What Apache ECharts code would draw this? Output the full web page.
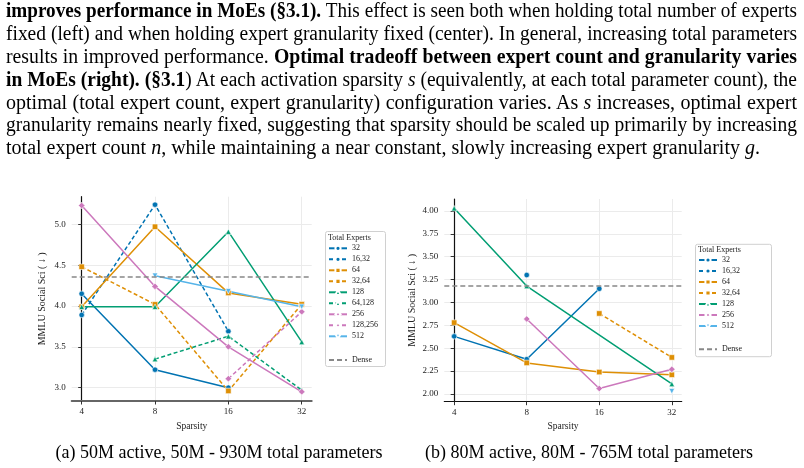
<!DOCTYPE html>
<html>
<head>
<meta charset="utf-8">
<script src="https://cdn.jsdelivr.net/npm/echarts@6/dist/echarts.min.js"></script>
<style>
body { margin: 0; background: #fff; }
#chart { position: absolute; left: 0; top: 0; width: 804px; height: 468px; }
.txt { position: absolute; font-family: 'Liberation Serif', 'Times New Roman', serif; color: #000; }
#para { left: 6px; top: -0.6px; width: 791px; font-size: 20.5px; line-height: 22.8px; }
#para div { white-space: nowrap; transform-origin: 0 0; }
#para.fit div { white-space: normal; text-align: justify; text-align-last: justify; }
#para.fit div.last { text-align-last: left; }
.cap { top: 442px; font-size: 18px; white-space: nowrap; transform: translateX(-50%); }
</style>
</head>
<body>
<div id="chart"></div>
<div id="para" class="txt">
  <div><b>improves performance in MoEs (§3.1).</b> This effect is seen both when holding total number of experts</div>
  <div>fixed (left) and when holding expert granularity fixed (center). In general, increasing total parameters</div>
  <div>results in improved performance. <b>Optimal tradeoff between expert count and granularity varies</b></div>
  <div><b>in MoEs (right). (§3.1</b>) At each activation sparsity <i>s</i> (equivalently, at each total parameter count), the</div>
  <div>optimal (total expert count, expert granularity) configuration varies. As <i>s</i> increases, optimal expert</div>
  <div>granularity remains nearly fixed, suggesting that sparsity should be scaled up primarily by increasing</div>
  <div class="last">total expert count <i>n</i>, while maintaining a near constant, slowly increasing expert granularity <i>g</i>.</div>
</div>
<div class="txt cap" style="left:219px">(a) 50M active, 50M - 930M total parameters</div>
<div class="txt cap" style="left:589px">(b) 80M active, 80M - 765M total parameters</div>

<script>
// x categories (sparsity) and y ticks
const sparsity = ['4', '8', '16', '32']
const leftTicksY = [3.0, 3.5, 4.0, 4.5, 5.0]
const rightTicksY = [2.0, 2.25, 2.5, 2.75, 3.0, 3.25, 3.5, 3.75, 4.0]

// (a) 50M active
const left32 = [4.15, 3.22, 3.00, null]
const left16_32 = [3.89, 5.24, 3.69, null]
const left64 = [3.99, 4.97, 4.16, 4.02]
const left32_64 = [4.48, 4.02, 2.96, 4.02]
const left128 = [3.99, 3.99, 4.91, 3.56]
const left64_128 = [null, 3.35, 3.63, 2.97]
const left256 = [5.23, 4.24, 3.50, 2.95]
const left128_256 = [null, null, 3.11, 3.93]
const left512 = [null, 4.37, 4.18, 3.99]
const leftDense = 4.36

// (b) 80M active
const right32 = [2.63, 2.38, 3.15, null]
const right16_32 = [null, 3.30, null, null]
const right64 = [2.78, 2.34, 2.24, 2.21]
const right32_64 = [null, null, 2.88, 2.40]
const right128 = [4.03, 3.18, null, 2.11]
const right256 = [null, 2.82, 2.06, 2.27]
const right512 = [null, null, null, 2.03]
const rightDense = 3.18

const leftNames = ['32', '16,32', '64', '32,64', '128', '64,128', '256', '128,256', '512']
const rightNames = ['32', '16,32', '64', '32,64', '128', '256', '512']

const BLUE = '#0173b2', ORANGE = '#de8f05', GREEN = '#029e73', PINK = '#cc78bc', SKY = '#56b4e9'
const TRI_DOWN = 'path://M0,0 L10,0 L5,9 Z'
const FONT = 'Liberation Serif'

// squeeze each paragraph line horizontally, like the condensed typeset original
const para = document.getElementById('para')
const natural = d => {
  const r = document.createRange()
  r.selectNodeContents(d)
  return r.getBoundingClientRect().width
}
const rows = [...para.children]
const lastRow = rows[rows.length - 1]
const base = 754 / natural(lastRow)
const scales = rows.map(d => d === lastRow ? base : Math.min(base, 789 / natural(d)))
para.classList.add('fit')
rows.forEach((d, i) => {
  d.style.width = (791 / scales[i]) + 'px'
  d.style.transform = 'scaleX(' + scales[i] + ')'
})

const line = (name, vals, idx, color, symbol, dashed, extra) => Object.assign({
  name,
  type: 'line',
  xAxisIndex: idx,
  yAxisIndex: idx,
  data: vals.map((v, i) => [i, v]),
  symbol,
  symbolSize: symbol === 'diamond' ? 6.5 : 5.5,
  showSymbol: true,
  lineStyle: { color, width: 1.5, type: dashed ? [4, 2.5] : 'solid' },
  itemStyle: { color, borderColor: '#fff', borderWidth: 0.6 },
  emphasis: { disabled: true }
}, extra || {})

const dense = (idx, value) => ({
  name: 'Dense',
  type: 'line',
  xAxisIndex: idx,
  yAxisIndex: idx,
  data: [],
  symbol: 'none',
  lineStyle: { color: '#888', width: 1.5, type: [5, 3] },
  itemStyle: { color: '#888' },
  markLine: {
    silent: true,
    symbol: 'none',
    label: { show: false },
    lineStyle: { color: '#888', width: 1.5, type: [5, 3] },
    data: [{ yAxis: value }]
  }
})

const xAxis = (idx, axisColor, axisWidth) => ({
  gridIndex: idx,
  type: 'value',
  min: -0.136,
  max: 3.136,
  name: 'Sparsity',
  nameLocation: 'middle',
  nameGap: 20,
  nameTextStyle: { fontFamily: FONT, fontSize: 9.5, color: '#222' },
  axisLine: { lineStyle: { color: axisColor, width: axisWidth } },
  axisTick: { customValues: [0, 1, 2, 3], length: 3.5, lineStyle: { color: '#333' } },
  axisLabel: {
    customValues: [0, 1, 2, 3],
    formatter: v => sparsity[Math.round(v)],
    fontFamily: FONT, fontSize: 9, color: '#222', margin: 6
  },
  splitLine: { show: true, lineStyle: { color: '#ebebeb', width: 1 } }
})

const yAxis = (idx, min, max, ticks, digits, gap) => ({
  gridIndex: idx,
  type: 'value',
  min,
  max,
  name: 'MMLU Social Sci ( ↓ )',
  nameLocation: 'middle',
  nameGap: gap,
  nameTextStyle: { fontFamily: FONT, fontSize: 10, color: '#222' },
  axisLine: { show: true, lineStyle: { color: '#111', width: 1.2 } },
  axisTick: { show: true, customValues: ticks, length: 3.5, lineStyle: { color: '#333' } },
  axisLabel: {
    customValues: ticks,
    formatter: v => v.toFixed(digits),
    fontFamily: FONT, fontSize: 9, color: '#222', margin: 6
  },
  splitLine: { show: true, lineStyle: { color: '#ebebeb', width: 1 } }
})

const legendText = { fontFamily: FONT, fontSize: 8, color: '#222', lineHeight: 11 }
const legend = (names, left, top) => ({
  data: names,
  orient: 'vertical',
  left,
  top,
  padding: 0,
  itemGap: 0,
  itemWidth: 18,
  itemHeight: 6.5,
  textStyle: legendText,
  selectedMode: false
})
// the dashed reference line has no marker in the legend
const denseItem = [{ name: 'Dense', itemStyle: { opacity: 0 } }]

const chart = echarts.init(document.getElementById('chart'))
chart.setOption({
  animation: false,
  backgroundColor: '#fff',
  grid: [
    { left: 71.7, top: 196.7, width: 240, height: 204.3 },
    { left: 444.3, top: 199, width: 237.4, height: 202.7 }
  ],
  xAxis: [xAxis(0, '#666', 2), xAxis(1, '#111', 1.2)],
  yAxis: [
    yAxis(0, 2.837, 5.338, leftTicksY, 1, 24),
    yAxis(1, 1.916, 4.131, rightTicksY, 2, 27)
  ],
  legend: [
    legend(leftNames, 328, 242.8),
    legend(denseItem, 328, 354.5),
    legend(rightNames, 698, 254.5),
    legend(denseItem, 698, 343.8)
  ],
  graphic: [
    { type: 'rect', shape: { x: 325.5, y: 231.5, width: 60, height: 135, r: 2 }, style: { fill: '#fff', stroke: '#d0d0d0', lineWidth: 1 }, z: 0 },
    { type: 'text', x: 328, y: 237.5, style: { text: 'Total Experts', font: '8px Liberation Serif', fill: '#222', verticalAlign: 'middle' }, z: 1 },
    { type: 'rect', shape: { x: 695.5, y: 244.3, width: 76, height: 112.4, r: 2 }, style: { fill: '#fff', stroke: '#d0d0d0', lineWidth: 1 }, z: 0 },
    { type: 'text', x: 698, y: 250.3, style: { text: 'Total Experts', font: '8px Liberation Serif', fill: '#222', verticalAlign: 'middle' }, z: 1 }
  ],
  series: [
    line('32', left32, 0, BLUE, 'circle', false),
    line('16,32', left16_32, 0, BLUE, 'circle', true),
    line('64', left64, 0, ORANGE, 'rect', false),
    line('32,64', left32_64, 0, ORANGE, 'rect', true),
    line('128', left128, 0, GREEN, 'triangle', false),
    line('64,128', left64_128, 0, GREEN, 'triangle', true),
    line('256', left256, 0, PINK, 'diamond', false),
    line('128,256', left128_256, 0, PINK, 'diamond', true),
    line('512', left512, 0, SKY, TRI_DOWN, false),
    dense(0, leftDense),

    line('32', right32, 1, BLUE, 'circle', false),
    line('16,32', right16_32, 1, BLUE, 'circle', true),
    line('64', right64, 1, ORANGE, 'rect', false),
    line('32,64', right32_64, 1, ORANGE, 'rect', true),
    line('128', right128, 1, GREEN, 'triangle', false, { connectNulls: true }),
    line('256', right256, 1, PINK, 'diamond', false),
    line('512', right512, 1, SKY, TRI_DOWN, false),
    dense(1, rightDense)
  ]
})
</script>
</body>
</html>
